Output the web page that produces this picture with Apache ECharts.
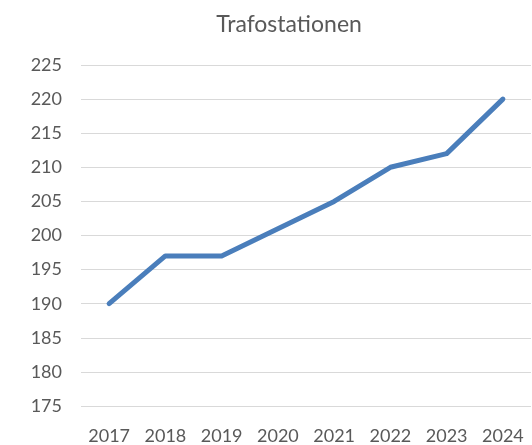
<!DOCTYPE html>
<html><head><meta charset="utf-8">
<script src="https://cdn.jsdelivr.net/npm/echarts@6/dist/echarts.min.js"></script>
<style>html,body{margin:0;padding:0;background:#fff}#c{width:532px;height:445px}</style>
</head><body><div id="c"></div>
<script>
var years = ['2017','2018','2019','2020','2021','2022','2023','2024'];
var values = [190, 197, 197, 201, 205, 210, 212, 220];
var chartTitle = 'Trafostationen';
var chart = echarts.init(document.getElementById('c'), null, {renderer:'canvas'});
var font = 'Lato';
chart.setOption({
  animation:false,
  backgroundColor:'#fff',
  title:{text:chartTitle,left:284,top:8,textAlign:'center',
    textStyle:{fontFamily:font,fontSize:23,fontWeight:'normal',color:'#595959'}},
  grid:{left:81,right:1,top:65,bottom:39,containLabel:false},
  xAxis:{type:'category',data:years,boundaryGap:true,
    axisLine:{show:false},axisTick:{show:false},
    axisLabel:{margin:21,fontFamily:font,fontSize:18,color:'#595959'},
    splitLine:{show:false}},
  yAxis:{type:'value',min:175,max:225,interval:5,
    axisLine:{show:false},axisTick:{show:false},
    axisLabel:{margin:19,fontFamily:font,fontSize:18,color:'#595959'},
    splitLine:{show:true,lineStyle:{color:'#d9d9d9',width:1}}},
  series:[{type:'line',data:values,symbol:'none',
    lineStyle:{color:'#4a7ebb',width:5,cap:'round',join:'round'}}]
});
</script></body></html>
